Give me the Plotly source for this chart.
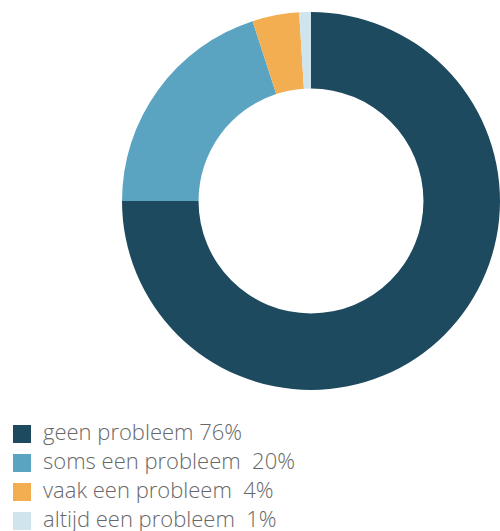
import plotly.graph_objects as go

# ── data ──
labels = [
    "geen probleem 76%",
    "soms een probleem\u00a0\u00a020%",
    "vaak een probleem\u00a0\u00a04%",
    "altijd een probleem\u00a0\u00a01%",
]
# slice sizes as read from the ring (the big slice ends exactly at 9 o'clock)
values = [75, 20, 4, 1]
colors = ["#1d4a5e", "#5ba4c1", "#f4ae52", "#cfe4ec"]

W, H = 500, 531

fig = go.Figure(
    go.Pie(
        labels=labels,
        values=values,
        hole=0.595,
        sort=False,
        direction="clockwise",
        rotation=0,
        marker=dict(colors=colors, line=dict(width=0)),
        textinfo="none",
        hoverinfo="label",
        showlegend=False,
        domain=dict(x=[122 / W, 1.0], y=[1 - 391 / H, 1 - 11 / H]),
    )
)

# ── hand-drawn legend: 18px squares + labels ──
for i, (lab, col) in enumerate(zip(labels, colors)):
    cy = 434 + 29 * i
    fig.add_shape(
        type="rect", xref="paper", yref="paper",
        x0=13 / W, x1=31 / W, y0=1 - (cy + 9) / H, y1=1 - (cy - 9) / H,
        fillcolor=col, line=dict(width=0),
    )
    fig.add_annotation(
        text=lab, xref="paper", yref="paper",
        x=41 / W, y=1 - (cy - 3) / H, xanchor="left", yanchor="middle",
        showarrow=False,
        font=dict(family="Open Sans", size=22, color="#686868", weight=300),
    )

fig.update_layout(
    width=W,
    height=H,
    margin=dict(l=0, r=0, t=0, b=0, autoexpand=False),
    paper_bgcolor="white",
    plot_bgcolor="white",
)

# drop the default 8px body margin so the figure sits at the window origin
fig.write_html(
    "out.html",
    config={"displayModeBar": False},
    post_script="document.body.style.margin='0';",
)
